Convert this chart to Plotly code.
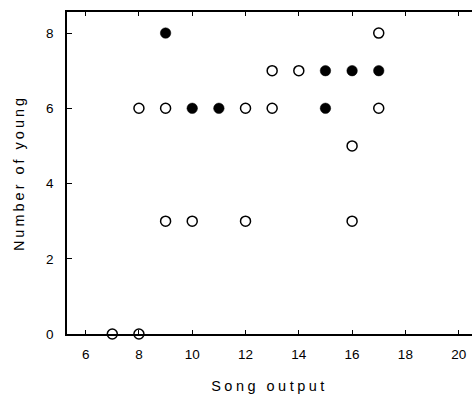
import plotly.graph_objects as go

# Data
open_x = [7, 8, 8, 9, 9, 10, 12, 12, 13, 13, 14, 16, 16, 17, 17]
open_y = [0, 0, 6, 6, 3, 3, 6, 3, 7, 6, 7, 5, 3, 8, 6]
filled_x = [9, 10, 11, 15, 15, 16, 17]
filled_y = [8, 6, 6, 7, 6, 7, 7]
x_ticks = [6, 8, 10, 12, 14, 16, 18, 20]
y_ticks = [0, 2, 4, 6, 8]

fig = go.Figure()
fig.add_trace(go.Scatter(
    x=open_x, y=open_y, mode="markers", cliponaxis=False,
    marker=dict(symbol="circle", size=10, color="rgba(0,0,0,0)",
                line=dict(color="black", width=1.5)),
    showlegend=False, hoverinfo="skip"))
fig.add_trace(go.Scatter(
    x=filled_x, y=filled_y, mode="markers", cliponaxis=False,
    marker=dict(symbol="circle", size=10.5, color="black",
                line=dict(color="black", width=0.5)),
    showlegend=False, hoverinfo="skip"))

font = "Liberation Sans, Arial, sans-serif"
fig.update_layout(
    width=472, height=399,
    margin=dict(l=67, r=0, t=12, b=65),
    paper_bgcolor="white", plot_bgcolor="white",
    font=dict(family=font, color="black", size=13),
    xaxis=dict(
        range=[5.3, 20.5], tickvals=x_ticks, ticks="inside", ticklen=4,
        tickwidth=1, tickcolor="black", showline=True, linecolor="black",
        linewidth=2, mirror="ticks", showgrid=False, zeroline=False,
        tickfont=dict(size=13.5), ticklabelstandoff=7,
        title=dict(text='<span style="letter-spacing:3.5px">Song output</span>',
                   font=dict(size=14.5), standoff=20),
    ),
    yaxis=dict(
        range=[0, 8.56], tickvals=y_ticks, ticks="inside", ticklen=5,
        tickwidth=1, tickcolor="black", showline=True, linecolor="black",
        linewidth=1.5, mirror=False, showgrid=False, zeroline=False,
        tickfont=dict(size=13.5), ticklabelstandoff=9,
        title=dict(text='<span style="letter-spacing:3px">Number of young</span>',
                   font=dict(size=14.5), standoff=18),
    ),
)

fig.write_html(
    "out.html",
    config={"displayModeBar": False},
    post_script="document.body.style.margin='0';document.body.style.overflow='hidden';",
)
